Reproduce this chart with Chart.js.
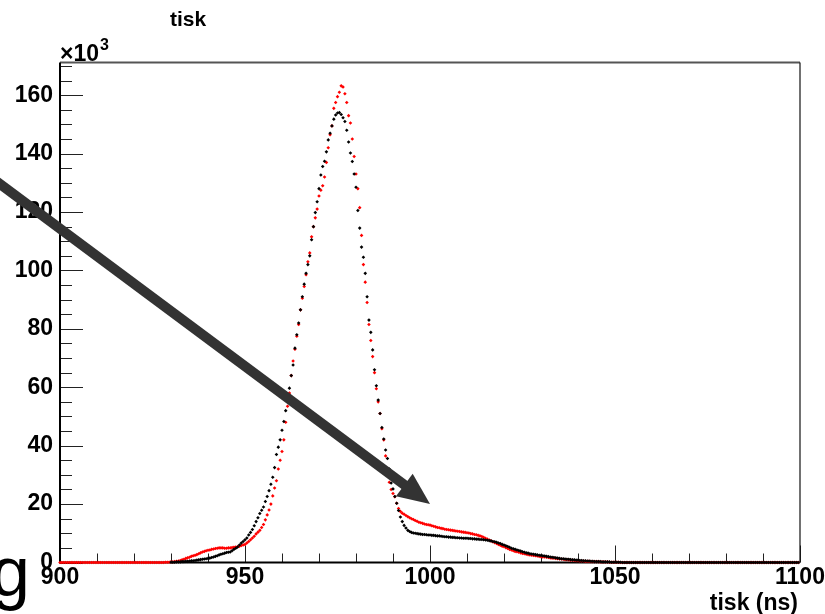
<!DOCTYPE html>
<html>
<head>
<meta charset="utf-8">
<title>tisk</title>
<script src="https://cdn.jsdelivr.net/npm/chart.js@4.4.1/dist/chart.umd.min.js"></script>
<style>
  html, body { margin: 0; padding: 0; background: #fff; }
  #wrap { position: relative; width: 825px; height: 614px; overflow: hidden; }
</style>
</head>
<body>
<div id="wrap"><canvas id="tiskChart" width="825" height="614"></canvas></div>
<script>
// --- data (counts in units of 10^3, 0.5 ns bins) ---
const binWidth = 0.5;
const xMin = 900, xMax = 1100;
const yMax = 171.2;
const xTickLabels = [900, 950, 1000, 1050, 1100];
const yTickLabels = [0, 20, 40, 60, 80, 100, 120, 140, 160];

// red histogram, first bin at 900 ns
const redStart = 900;
const redCounts = [
  0,0,0,0,0,0,0,0,0,0,
  0,0,0,0,0,0,0,0,0,0,
  0,0,0,0,0,0,0,0,0,0,
  0,0,0,0,0,0,0,0,0,0,
  0,0,0,0,0,0,0,0,0,0,
  0,0,0,0,0,0,0,0.1,0.1,0.1,
  0.2,0.2,0.3,0.4,0.5,0.7,0.9,1.1,1.4,1.6,
  1.8,2.1,2.3,2.5,2.7,3.0,3.3,3.6,3.8,4.0,
  4.2,4.3,4.5,4.6,4.8,4.9,5.0,5.0,5.0,4.9,
  4.9,5.0,5.0,5.1,5.2,5.3,5.4,5.6,5.8,6.0,
  6.2,6.7,7.2,7.8,8.4,9.0,9.8,10.4,11.0,12.0,
  13.0,14.6,16.3,18.0,20.0,22.8,25.5,28.0,32.0,35.0,
  38.0,42.0,48.0,53.5,58.0,64.0,69.0,73.0,77.5,81.5,
  86.5,90.5,94.5,98.5,103.0,106.0,111.5,115.0,118.0,121.0,
  125.5,127.5,129.0,132.0,137.0,142.0,146.5,149.5,155.5,157.5,
  159.5,161.0,163.2,162.8,160.5,157.5,153.0,150.5,145.0,139.0,
  133.0,128.0,121.5,112.0,102.0,96.0,89.0,81.5,76.0,70.5,
  65.0,59.5,55.0,51.0,45.8,42.0,36.5,31.6,27.5,25.0,
  23.6,22.5,20.3,18.5,17.5,16.9,16.5,16.1,15.7,15.3,
  15.0,14.7,14.4,14.1,13.8,13.6,13.4,13.2,13.0,12.9,
  12.8,12.6,12.4,12.2,12.0,11.9,11.7,11.6,11.4,11.3,
  11.2,11.1,11.0,10.9,10.8,10.7,10.6,10.5,10.4,10.3,
  10.2,10.1,9.9,9.8,9.6,9.5,9.3,9.1,8.9,8.6,
  8.3,8.0,7.7,7.4,7.1,6.8,6.5,6.2,5.9,5.6,
  5.4,5.1,4.8,4.5,4.3,4.0,3.8,3.7,3.5,3.3,
  3.1,3.0,2.8,2.7,2.6,2.5,2.4,2.3,2.2,2.1,
  2.0,1.9,1.9,1.8,1.7,1.6,1.5,1.5,1.4,1.3,
  1.2,1.2,1.1,1.0,1.0,0.9,0.8,0.8,0.7,0.6,
  0.6,0.5,0.5,0.5,0.4,0.4,0.4,0.3,0.3,0.3,
  0.3,0.3,0.2,0.2,0.2,0.2,0.2,0.1,0.1,0.1,
  0.1,0.1,0.1,0,0,0,0,0,0,0,
  0,0,0,0,0,0,0,0,0,0,
  0,0,0,0,0,0,0,0,0,0,
  0,0,0,0,0,0,0,0,0,0,
  0,0,0,0,0,0,0,0,0,0,
  0,0,0,0,0,0,0,0,0,0,
  0,0,0,0,0,0,0,0,0,0,
  0,0,0,0,0,0,0,0,0,0,
  0,0,0,0,0,0,0,0,0,0,
  0,0,0,0,0,0,0,0,0,0
];

// black histogram, first bin at 930 ns
const blackStart = 930;
const blackCounts = [
  0.1,0.1,0.1,0.2,0.2,0.2,0.3,0.3,0.4,0.4,
  0.5,0.6,0.6,0.7,0.8,0.9,1.0,1.1,1.2,1.3,
  1.4,1.5,1.7,1.9,2.1,2.3,2.6,2.8,3.0,3.2,
  3.4,3.5,3.6,4.0,4.5,4.9,5.3,6.0,6.7,7.2,
  7.8,8.4,9.4,10.3,11.3,12.6,14.0,15.3,16.8,17.9,
  19.0,20.9,22.6,24.6,26.8,29.2,32.5,37.0,39.5,42.0,
  45.3,48.3,52.0,55.2,59.7,64.0,67.6,73.4,78.0,82.0,
  86.5,91.0,95.3,99.0,102.0,105.0,110.5,115.0,119.8,123.5,
  128.0,132.7,135.6,137.4,140.6,144.7,147.0,149.5,151.8,153.2,
  153.9,154.1,153.4,152.3,151.0,148.0,144.0,140.2,137.3,133.0,
  128.5,120.5,114.5,108.0,104.5,99.0,91.0,83.0,78.8,72.8,
  66.0,60.5,55.6,51.0,46.2,42.3,38.5,35.6,32.0,27.2,
  25.2,22.6,20.3,17.8,15.6,14.0,12.7,11.8,11.0,10.6,
  10.3,10.1,10.0,9.9,9.8,9.7,9.6,9.6,9.5,9.4,
  9.4,9.3,9.3,9.2,9.1,9.1,9.0,8.9,8.8,8.8,
  8.7,8.7,8.6,8.6,8.5,8.5,8.4,8.4,8.3,8.3,
  8.3,8.2,8.2,8.1,8.1,8.0,8.0,7.9,7.9,7.8,
  7.7,7.6,7.5,7.4,7.2,7.1,6.9,6.7,6.5,6.2,
  6.0,5.7,5.5,5.2,4.9,4.7,4.5,4.3,4.1,3.9,
  3.7,3.5,3.3,3.2,3.0,2.9,2.8,2.7,2.6,2.5,
  2.4,2.3,2.2,2.1,2.0,1.9,1.8,1.7,1.6,1.5,
  1.4,1.3,1.3,1.2,1.1,1.1,1.0,0.9,0.9,0.8,
  0.8,0.7,0.7,0.6,0.6,0.5,0.5,0.4,0.4,0.3,
  0.3,0.3,0.3,0.2,0.2,0.2,0.2,0.2,0.1,0.1,
  0.1,0.1,0.1,0.1,0,0,0,0,0,0,
  0,0,0,0,0,0,0,0,0,0,
  0,0,0,0,0,0,0,0,0,0,
  0,0,0,0,0,0,0,0,0,0,
  0,0,0,0,0,0,0,0,0,0,
  0,0,0,0,0,0,0,0,0,0,
  0,0,0,0,0,0,0,0,0,0,
  0,0,0,0,0,0,0,0,0,0,
  0,0,0,0,0,0,0,0,0,0,
  0,0,0,0,0,0,0,0,0,0
];

const FONT = '"Liberation Sans", Arial, Helvetica, sans-serif';

const toPoints = (start, values) => values.map((v, i) => ({ x: start + i * binWidth, y: v }));

// ROOT-like frame: inward ticks, axis lines, labels and the overlay arrow
const rootFrame = {
    id: 'rootFrame',
    beforeDatasetsDraw(chart) {
        const { ctx, chartArea: a, scales: { x, y } } = chart;
        ctx.save();

        // minor + major ticks
        ctx.strokeStyle = '#222';
        ctx.lineWidth = 1;
        ctx.beginPath();
        for (let i = 0; i <= 20; i++) {
            const px = Math.round(x.getPixelForValue(xMin + i * 10)) + 0.5;
            const len = (i % 5 === 0) ? 17 : 9;
            ctx.moveTo(px, a.bottom);
            ctx.lineTo(px, a.bottom - len);
        }
        for (let i = 0; i <= 34; i++) {
            const py = Math.round(y.getPixelForValue(i * 5)) + 0.5;
            const len = (i % 4 === 0) ? 23 : 12;
            ctx.moveTo(a.left, py);
            ctx.lineTo(a.left + len, py);
        }
        ctx.stroke();

        // top + right frame
        ctx.strokeStyle = '#555';
        ctx.lineWidth = 2;
        ctx.beginPath();
        ctx.moveTo(a.left, a.top);
        ctx.lineTo(a.right, a.top);
        ctx.stroke();
        ctx.strokeStyle = '#111';
        ctx.lineWidth = 1.2;
        ctx.beginPath();
        ctx.moveTo(a.right, a.top);
        ctx.lineTo(a.right, a.bottom);
        ctx.stroke();

        // axis lines
        ctx.strokeStyle = '#000';
        ctx.lineWidth = 2;
        ctx.beginPath();
        ctx.moveTo(a.left, a.top);
        ctx.lineTo(a.left, a.bottom);
        ctx.lineTo(a.right, a.bottom);
        ctx.stroke();
        ctx.restore();
    },
    afterDraw(chart) {
        const { ctx, chartArea: a } = chart;
        ctx.save();
        ctx.fillStyle = '#000';
        ctx.textBaseline = 'alphabetic';

        // histogram title
        ctx.font = 'bold 21px ' + FONT;
        ctx.textAlign = 'center';
        ctx.fillText('tisk', 188, 26);

        // exponent label
        ctx.textAlign = 'left';
        ctx.font = 'bold 23px ' + FONT;
        ctx.fillText('\u00d710', a.left, 61);
        const w = ctx.measureText('\u00d710').width;
        ctx.font = 'bold 16px ' + FONT;
        ctx.fillText('3', a.left + w + 1, 50);

        // x axis title
        ctx.font = 'bold 23px ' + FONT;
        ctx.textAlign = 'right';
        ctx.fillText('tisk (ns)', 798, 610);

        // stray letter at the bottom-left edge
        ctx.font = '70px ' + FONT;
        ctx.textAlign = 'left';
        ctx.fillText('g', -9, 596);

        // overlay arrow
        const x0 = 0, y0 = 184, tx = 430, ty = 504;
        const len = Math.hypot(tx - x0, ty - y0);
        const ux = (tx - x0) / len, uy = (ty - y0) / len;
        const headLen = 32, headHalf = 14;
        const bx = tx - ux * headLen, by = ty - uy * headLen;
        ctx.strokeStyle = '#333';
        ctx.fillStyle = '#333';
        ctx.lineWidth = 10;
        ctx.beginPath();
        ctx.moveTo(x0 - ux * 20, y0 - uy * 20);
        ctx.lineTo(bx + ux * 2, by + uy * 2);
        ctx.stroke();
        ctx.beginPath();
        ctx.moveTo(tx, ty);
        ctx.lineTo(bx - uy * headHalf, by + ux * headHalf);
        ctx.lineTo(bx + uy * headHalf, by - ux * headHalf);
        ctx.closePath();
        ctx.fill();
        ctx.restore();
    }
};

new Chart(document.getElementById('tiskChart'), {
    type: 'scatter',
    data: {
        datasets: [{
            label: 'black',
            data: toPoints(blackStart, blackCounts),
            backgroundColor: '#000',
            borderColor: '#000',
            pointStyle: 'rectRot',
            pointRadius: 1.8,
            borderWidth: 0,
            clip: 6
        }, {
            label: 'red',
            data: toPoints(redStart, redCounts),
            backgroundColor: '#ff0000',
            borderColor: '#ff0000',
            pointStyle: 'rectRot',
            pointRadius: 1.8,
            borderWidth: 0,
            clip: 6
        }]
    },
    options: {
        responsive: false,
        animation: false,
        events: [],
        layout: { padding: { top: 62.5, right: 25, bottom: 0, left: 0 } },
        plugins: {
            legend: { display: false },
            tooltip: { enabled: false },
            title: { display: false }
        },
        scales: {
            x: {
                type: 'linear',
                min: xMin,
                max: xMax,
                grid: { display: false, drawTicks: false },
                border: { display: false },
                afterBuildTicks: s => { s.ticks = xTickLabels.map(v => ({ value: v })); },
                afterFit: s => { s.height = 51.5; s.paddingLeft = 0; s.paddingRight = 0; },
                ticks: {
                    maxRotation: 0,
                    autoSkip: false,
                    padding: 1,
                    color: '#000',
                    font: { family: FONT, size: 23, weight: 'bold', lineHeight: 1.2 },
                    callback: v => String(v)
                }
            },
            y: {
                min: 0,
                max: yMax,
                grid: { display: false, drawTicks: false },
                border: { display: false },
                afterBuildTicks: s => { s.ticks = yTickLabels.map(v => ({ value: v })); },
                afterFit: s => { s.width = 60; },
                ticks: {
                    padding: 7,
                    color: '#000',
                    font: { family: FONT, size: 23, weight: 'bold' },
                    callback: v => String(v)
                }
            }
        }
    },
    plugins: [rootFrame]
});
</script>
</body>
</html>
